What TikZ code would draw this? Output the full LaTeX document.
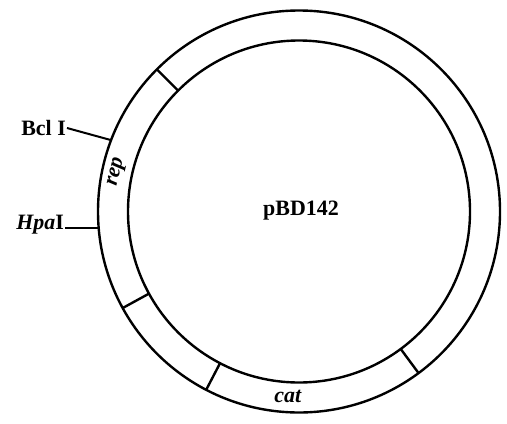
\documentclass[tikz,border=0pt]{standalone}
\usepackage{fontspec}
\setmainfont{Liberation Serif}
\usetikzlibrary{calc}
\begin{document}
\begin{tikzpicture}[x=1bp,y=1bp,
  ring/.style={line width=2.4bp},
  divider/.style={line width=2.4bp},
  leader/.style={line width=2bp},
  lbl/.style={font=\fontsize{22}{24}\selectfont\bfseries, inner sep=1bp}]
\useasboundingbox (0,0) rectangle (507,423);
\coordinate (c) at (299,211.5);
\draw[ring] (c) circle[radius=201];
\draw[ring] (c) circle[radius=171];
\foreach \a in {135,-151.3,-117.5,-53.5}
  \draw[divider] ($(c)+(\a:171)$) -- ($(c)+(\a:201)$);
\node[lbl] (name) at (301,212) {pBD142};
\node[lbl, anchor=east] (bcl) at (67,295) {Bcl I};
\coordinate (bclpt) at ($(c)+(159.2:201)$);
\draw[leader] (bcl.east) -- (bclpt);
\node[lbl, anchor=east] (hpa) at (65,198) {\textit{Hpa}I};
\coordinate (hpapt) at ($(c)+(184.7:201)$);
\draw[leader] (hpa.east |- hpapt) -- (hpapt);
\node[lbl, rotate=77, inner sep=0pt] (gene) at (117,251) {\textit{rep}};
\node[lbl] (cat) at (288,27) {\textit{cat}};
\end{tikzpicture}
\end{document}
